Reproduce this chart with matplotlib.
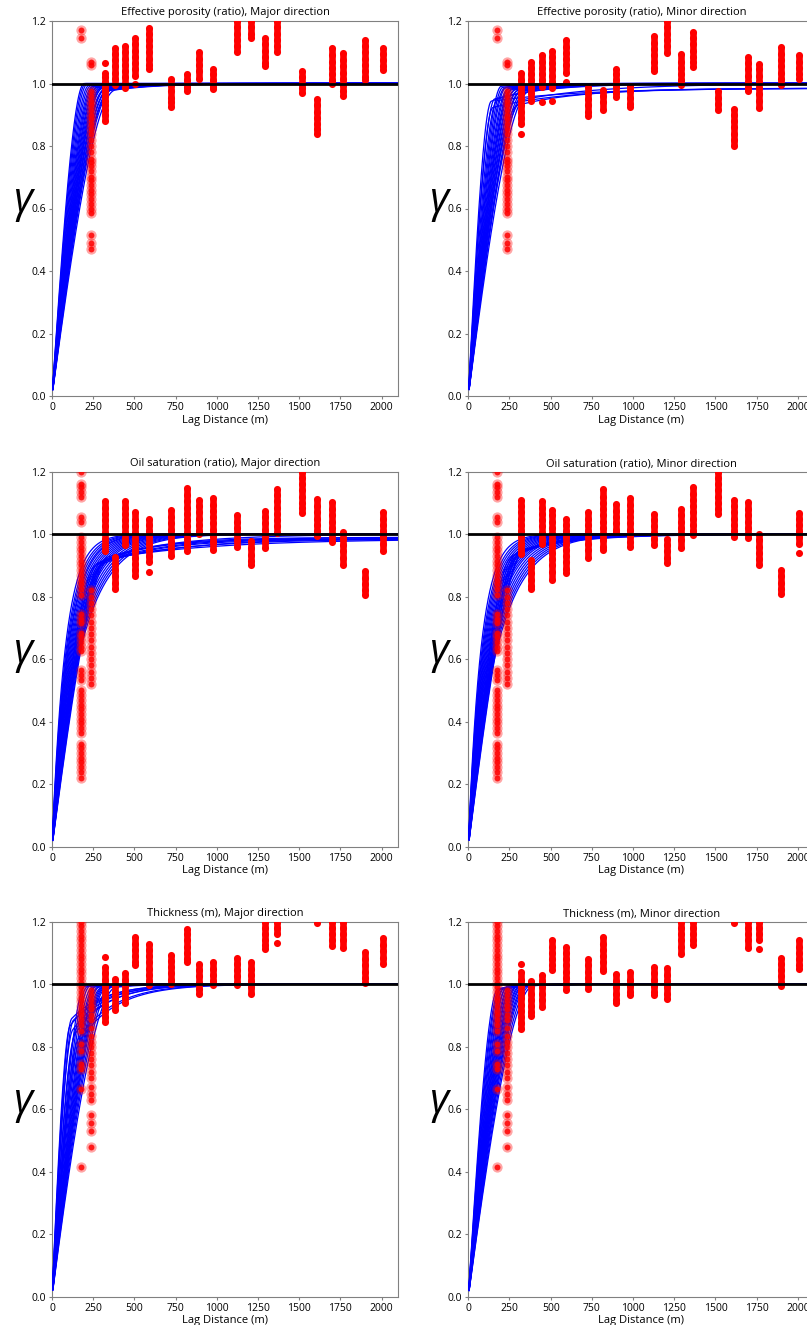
import numpy as np
import matplotlib
matplotlib.use("Agg")
import matplotlib.pyplot as plt

# lag distances (m) of the experimental variogram points
lags = [175, 235, 320, 380, 445, 505, 590, 725, 820, 895, 980, 1125, 1205,
        1290, 1365, 1515, 1610, 1700, 1765, 1900, 2010]

# ---------------- effective porosity ----------------
por_lag1 = [1.17, 1.145]
por_lag2 = [1.07, 1.06, 0.975, 0.96, 0.945, 0.93, 0.915, 0.90, 0.885, 0.87, 0.855,
            0.84, 0.82, 0.80, 0.78, 0.76, 0.75, 0.735, 0.72, 0.70, 0.69, 0.675, 0.66,
            0.645, 0.63, 0.615, 0.60, 0.585, 0.515, 0.49, 0.47]
por_major = [
    [1.065, 1.035, 1.02, 1.005, 0.99, 0.975, 0.96, 0.945, 0.93, 0.915, 0.90, 0.88],
    [1.115, 1.095, 1.075, 1.055, 1.035, 1.015, 0.995],
    [1.12, 1.10, 1.08, 1.06, 1.04, 1.02, 1.00, 0.985],
    [1.145, 1.125, 1.105, 1.085, 1.065, 1.045, 1.025, 0.998],
    [1.178, 1.16, 1.14, 1.12, 1.10, 1.08, 1.06, 1.048],
    [1.014, 0.995, 0.975, 0.955, 0.94, 0.925],
    [1.03, 1.01, 0.99, 0.975],
    [1.10, 1.08, 1.06, 1.04, 1.016],
    [1.048, 1.03, 1.01, 0.99, 0.982],
    [1.2, 1.18, 1.16, 1.14, 1.12, 1.10],
    [1.2, 1.18, 1.16, 1.145],
    [1.147, 1.125, 1.105, 1.085, 1.065, 1.055],
    [1.2, 1.18, 1.16, 1.14, 1.12, 1.10],
    [1.04, 1.02, 1.00, 0.985, 0.97],
    [0.952, 0.93, 0.91, 0.89, 0.87, 0.855, 0.84],
    [1.112, 1.09, 1.07, 1.05, 1.03, 1.01, 1.0],
    [1.098, 1.075, 1.055, 1.035, 1.015, 0.995, 0.975, 0.96],
    [1.139, 1.12, 1.10, 1.08, 1.06, 1.04, 1.02, 1.01],
    [1.114, 1.095, 1.075, 1.055, 1.043],
]
por_minor = [
    [1.035, 1.01, 0.99, 0.97, 0.95, 0.93, 0.91, 0.89, 0.87, 0.84],
    [1.07, 1.05, 1.03, 1.01, 0.99, 0.97, 0.945],
    [1.09, 1.07, 1.05, 1.03, 1.01, 0.99, 0.94],
    [1.105, 1.085, 1.065, 1.045, 1.025, 1.005, 0.985, 0.945],
    [1.138, 1.118, 1.098, 1.078, 1.058, 1.035, 1.005],
    [0.99, 0.97, 0.95, 0.93, 0.91, 0.897],
    [0.98, 0.96, 0.94, 0.915],
    [1.048, 1.03, 1.01, 0.99, 0.97, 0.957],
    [0.993, 0.975, 0.955, 0.935, 0.925],
    [1.153, 1.13, 1.11, 1.09, 1.07, 1.05, 1.04],
    [1.2, 1.18, 1.16, 1.14, 1.12, 1.098],
    [1.093, 1.07, 1.05, 1.03, 1.01, 0.995],
    [1.165, 1.145, 1.125, 1.105, 1.085, 1.07, 1.054],
    [0.975, 0.955, 0.935, 0.915],
    [0.92, 0.90, 0.88, 0.86, 0.84, 0.82, 0.80],
    [1.086, 1.065, 1.045, 1.025, 1.005, 0.985, 0.976],
    [1.064, 1.045, 1.025, 1.005, 0.985, 0.965, 0.945, 0.922],
    [1.117, 1.095, 1.075, 1.055, 1.035, 1.015, 0.995],
    [1.09, 1.07, 1.05, 1.03, 1.015],
]

# ---------------- oil saturation ----------------
sat_lag1 = [1.2, 1.16, 1.15, 1.135, 1.12, 1.055, 1.04, 0.99, 0.975, 0.96, 0.945, 0.93,
            0.915, 0.90, 0.885, 0.87, 0.855, 0.84, 0.825, 0.805, 0.745, 0.73, 0.715,
            0.685, 0.67, 0.655, 0.64, 0.625, 0.565, 0.55, 0.535, 0.50, 0.485, 0.47,
            0.455, 0.44, 0.425, 0.41, 0.395, 0.38, 0.365, 0.33, 0.315, 0.30, 0.285,
            0.27, 0.255, 0.24, 0.22]
sat_lag2 = [0.82, 0.80, 0.78, 0.76, 0.74, 0.72, 0.70, 0.68, 0.66, 0.64, 0.62, 0.60,
            0.58, 0.56, 0.54, 0.52]
sat_major = [
    [1.105, 1.085, 1.065, 1.045, 1.025, 1.005, 0.985, 0.965, 0.945],
    [0.927, 0.905, 0.885, 0.865, 0.845, 0.826],
    [1.105, 1.085, 1.065, 1.045, 1.025, 1.005, 0.985, 0.965],
    [1.07, 1.045, 1.025, 1.005, 0.985, 0.965, 0.945, 0.925, 0.905, 0.885, 0.865],
    [1.05, 1.03, 1.01, 0.99, 0.97, 0.95, 0.93, 0.91, 0.88],
    [1.077, 1.055, 1.035, 1.015, 0.995, 0.975, 0.955, 0.93],
    [1.148, 1.125, 1.105, 1.085, 1.065, 1.045, 1.025, 1.005, 0.985, 0.965, 0.945],
    [1.109, 1.09, 1.07, 1.05, 1.03, 1.01, 1.0],
    [1.116, 1.095, 1.075, 1.055, 1.035, 1.015, 0.995, 0.975, 0.95],
    [1.063, 1.04, 1.02, 1.0, 0.98, 0.96],
    [0.978, 0.955, 0.935, 0.915, 0.90],
    [1.074, 1.055, 1.035, 1.015, 0.995, 0.975, 0.955],
    [1.146, 1.125, 1.105, 1.085, 1.065, 1.045, 1.025, 1.005],
    [1.2, 1.18, 1.16, 1.14, 1.12, 1.10, 1.085, 1.069],
    [1.112, 1.09, 1.07, 1.05, 1.03, 1.01, 0.995],
    [1.104, 1.08, 1.06, 1.04, 1.02, 1.0, 0.975],
    [1.008, 0.985, 0.965, 0.945, 0.925, 0.90],
    [0.881, 0.86, 0.84, 0.82, 0.805],
    [1.071, 1.05, 1.03, 1.01, 0.99, 0.97, 0.945],
]
sat_minor = [
    [1.11, 1.09, 1.07, 1.05, 1.03, 1.01, 0.99, 0.97, 0.95, 0.938],
    [0.917, 0.895, 0.875, 0.855, 0.835, 0.824],
    [1.105, 1.085, 1.065, 1.045, 1.025, 1.005, 0.985, 0.97],
    [1.079, 1.06, 1.04, 1.02, 1.0, 0.98, 0.96, 0.94, 0.92, 0.90, 0.88, 0.855],
    [1.05, 1.03, 1.01, 0.99, 0.97, 0.95, 0.93, 0.91, 0.89, 0.877],
    [1.071, 1.05, 1.03, 1.01, 0.99, 0.97, 0.95, 0.925],
    [1.144, 1.12, 1.10, 1.08, 1.06, 1.04, 1.02, 1.0, 0.98, 0.96, 0.95],
    [1.098, 1.075, 1.055, 1.035, 1.015, 1.008],
    [1.116, 1.095, 1.075, 1.055, 1.035, 1.015, 0.995, 0.975, 0.96],
    [1.066, 1.045, 1.025, 1.005, 0.985, 0.967],
    [0.984, 0.965, 0.945, 0.925, 0.909],
    [1.08, 1.06, 1.04, 1.02, 1.0, 0.98, 0.956],
    [1.151, 1.13, 1.11, 1.09, 1.07, 1.05, 1.03, 1.01, 0.997],
    [1.2, 1.18, 1.16, 1.14, 1.12, 1.10, 1.08, 1.066],
    [1.109, 1.09, 1.07, 1.05, 1.03, 1.01, 0.992],
    [1.104, 1.08, 1.06, 1.04, 1.02, 1.0, 0.988],
    [1.002, 0.98, 0.96, 0.94, 0.92, 0.903],
    [0.885, 0.865, 0.845, 0.825, 0.81],
    [1.069, 1.05, 1.03, 1.01, 0.99, 0.97, 0.941],
]

# ---------------- thickness ----------------
thk_lag1 = [1.2, 1.185, 1.17, 1.155, 1.14, 1.125, 1.11, 1.095, 1.08, 1.065, 1.05,
            1.035, 1.02, 1.005, 0.99, 0.975, 0.96, 0.945, 0.93, 0.915, 0.90, 0.885,
            0.87, 0.85, 0.81, 0.785, 0.745, 0.73, 0.665, 0.415]
thk_lag2 = [0.98, 0.965, 0.95, 0.935, 0.92, 0.90, 0.885, 0.86, 0.835, 0.815, 0.80,
            0.78, 0.76, 0.74, 0.72, 0.70, 0.67, 0.65, 0.63, 0.58, 0.555, 0.53, 0.48]
thk_major = [
    [1.087, 1.055, 1.035, 1.015, 0.995, 0.975, 0.955, 0.935, 0.915, 0.895, 0.88],
    [1.016, 0.995, 0.975, 0.955, 0.935, 0.917],
    [1.037, 1.015, 0.995, 0.975, 0.955, 0.94],
    [1.15, 1.13, 1.11, 1.09, 1.07, 1.061],
    [1.13, 1.11, 1.09, 1.07, 1.05, 1.03, 1.01, 0.997],
    [1.095, 1.075, 1.055, 1.035, 1.015, 1.002],
    [1.178, 1.16, 1.14, 1.12, 1.10, 1.08, 1.071],
    [1.066, 1.045, 1.025, 1.005, 0.985, 0.97],
    [1.071, 1.05, 1.03, 1.01, 0.999],
    [1.084, 1.065, 1.045, 1.025, 1.005, 0.997],
    [1.071, 1.05, 1.03, 1.01, 0.99, 0.97],
    [1.2, 1.18, 1.16, 1.14, 1.125, 1.114],
    [1.2, 1.18, 1.16, 1.133],
    [],
    [1.195],
    [1.2, 1.18, 1.16, 1.14, 1.123],
    [1.2, 1.18, 1.16, 1.14, 1.117],
    [1.104, 1.08, 1.06, 1.04, 1.02, 1.005],
    [1.148, 1.125, 1.105, 1.085, 1.066],
]
thk_minor = [
    [1.066, 1.04, 1.015, 0.995, 0.975, 0.955, 0.935, 0.915, 0.895, 0.875, 0.858],
    [1.01, 0.99, 0.97, 0.95, 0.93, 0.91, 0.898],
    [1.029, 1.01, 0.99, 0.97, 0.95, 0.927],
    [1.141, 1.12, 1.10, 1.08, 1.06, 1.045],
    [1.12, 1.10, 1.08, 1.06, 1.04, 1.02, 1.0, 0.981],
    [1.08, 1.06, 1.04, 1.02, 1.0, 0.984],
    [1.151, 1.13, 1.11, 1.09, 1.07, 1.05, 1.042],
    [1.034, 1.01, 0.99, 0.97, 0.95, 0.941],
    [1.039, 1.015, 0.995, 0.975, 0.967],
    [1.056, 1.035, 1.015, 0.995, 0.975, 0.967],
    [1.052, 1.03, 1.01, 0.99, 0.97, 0.952],
    [1.2, 1.18, 1.16, 1.14, 1.12, 1.098],
    [1.2, 1.18, 1.16, 1.14, 1.127],
    [],
    [1.195],
    [1.2, 1.18, 1.16, 1.14, 1.116],
    [1.2, 1.18, 1.16, 1.14, 1.112],
    [1.084, 1.065, 1.045, 1.025, 1.005, 0.995],
    [1.141, 1.12, 1.10, 1.08, 1.06, 1.05],
]

# ---------------- fitted variogram models (one entry per realization) ----------------
# gamma(h) = c_sph * spherical(h, a_sph) + (sill - c_sph) * exponential(h, a_exp)
por_major_csph = [1.0, 1.0, 0.99, 0.97, 0.96, 0.95, 0.96, 0.95, 0.94, 0.95, 0.94, 0.93,
                  0.94, 0.93, 0.95, 0.92, 0.93, 0.94, 0.92, 0.93, 0.91, 0.92, 0.93, 0.92]
por_major_asph = [195, 205, 215, 225, 235, 245, 255, 262, 270, 278, 285, 292,
                  300, 305, 312, 318, 325, 330, 338, 345, 352, 360, 370, 385]
por_major_aexp = [300, 300, 350, 400, 420, 450, 480, 500, 520, 540, 560, 580,
                  600, 620, 640, 660, 680, 700, 720, 740, 760, 780, 800, 850]
por_major_sill = [1.0, 1.0, 1.0, 1.0, 1.0, 1.0, 1.0, 1.0, 1.0, 1.0, 1.0, 1.0,
                  1.0, 1.0, 1.0, 1.0, 1.0, 1.0, 1.0, 1.0, 1.0, 1.0, 1.0, 1.0]

por_minor_csph = [0.91, 0.90, 0.92, 0.93, 0.96, 0.95, 0.94, 0.95, 0.93, 0.94, 0.92, 0.93,
                  0.94, 0.92, 0.93, 0.91, 0.92, 0.90, 0.91, 0.87, 0.90, 0.92, 0.91, 0.90]
por_minor_asph = [140, 150, 160, 175, 200, 210, 220, 230, 240, 250, 258, 266,
                  274, 282, 290, 298, 306, 314, 322, 300, 330, 340, 350, 370]
por_minor_aexp = [900, 1400, 1000, 1600, 400, 450, 480, 500, 520, 540, 560, 580,
                  600, 620, 640, 660, 680, 700, 720, 1200, 1500, 760, 780, 800]
por_minor_sill = [1.0, 0.985, 1.0, 0.985, 1.0, 1.0, 1.0, 1.0, 1.0, 1.0, 1.0, 1.0,
                  1.0, 1.0, 1.0, 1.0, 1.0, 1.0, 1.0, 0.985, 1.0, 1.0, 1.0, 1.0]

sat_major_csph = [0.0, 0.0, 0.0, 0.0, 0.0, 0.0, 0.0, 0.0, 0.0, 0.0, 0.0, 0.0, 0.0,
                  0.0, 0.0, 0.0, 0.0, 0.0, 0.78, 0.80, 0.80, 0.82, 0.84, 0.85, 0.86, 0.88]
sat_major_asph = [300, 300, 300, 300, 300, 300, 300, 300, 300, 300, 300, 300, 300,
                  300, 300, 300, 300, 300, 260, 280, 300, 320, 340, 300, 320, 350]
sat_major_aexp = [240, 260, 275, 290, 300, 315, 330, 345, 360, 375, 390, 405, 420,
                  440, 460, 480, 500, 520, 900, 1000, 1100, 1200, 1300, 1500, 1700, 2000]
sat_major_sill = [1.0, 1.0, 1.0, 1.0, 1.0, 1.0, 1.0, 1.0, 1.0, 1.0, 1.0, 1.0, 1.0,
                  1.0, 1.0, 1.0, 1.0, 1.0, 0.985, 0.99, 0.985, 0.99, 1.0, 0.985, 0.99, 0.985]

sat_minor_csph = [0.0, 0.0, 0.0, 0.0, 0.0, 0.0, 0.0, 0.0, 0.0, 0.0, 0.0, 0.0, 0.0,
                  0.0, 0.0, 0.0, 0.0, 0.0, 0.78, 0.80, 0.80, 0.82, 0.84, 0.85, 0.86, 0.88]
sat_minor_asph = [300, 300, 300, 300, 300, 300, 300, 300, 300, 300, 300, 300, 300,
                  300, 300, 300, 300, 300, 260, 280, 300, 320, 340, 300, 320, 350]
sat_minor_aexp = [230, 250, 265, 280, 295, 310, 325, 340, 355, 370, 385, 400, 420,
                  440, 460, 480, 500, 520, 700, 750, 800, 850, 900, 950, 1000, 1100]
sat_minor_sill = [1.0, 1.0, 1.0, 1.0, 1.0, 1.0, 1.0, 1.0, 1.0, 1.0, 1.0, 1.0, 1.0,
                  1.0, 1.0, 1.0, 1.0, 1.0, 1.0, 1.0, 1.0, 1.0, 1.0, 1.0, 1.0, 1.0]

thk_major_csph = [0.76, 0.80, 0.72, 0.79, 0.68, 0.72, 0.64, 0.62, 0.95, 0.94, 0.95, 0.93,
                  0.94, 0.95, 0.93, 0.94, 0.92, 0.93, 0.94, 0.92, 0.93, 0.91, 0.92, 0.90]
thk_major_asph = [110, 120, 125, 130, 140, 150, 160, 170, 200, 215, 230, 245,
                  260, 270, 280, 290, 300, 310, 320, 330, 340, 355, 370, 390]
thk_major_aexp = [560, 600, 580, 650, 600, 640, 660, 680, 300, 320, 340, 360,
                  380, 400, 420, 440, 460, 480, 500, 420, 440, 460, 480, 500]
thk_major_sill = [1.0, 1.0, 1.0, 1.0, 1.0, 1.0, 1.0, 1.0, 1.0, 1.0, 1.0, 1.0,
                  1.0, 1.0, 1.0, 1.0, 1.0, 1.0, 1.0, 1.0, 1.0, 1.0, 1.0, 1.0]

thk_minor_csph = [0.93, 0.92, 0.94, 0.93, 0.95, 0.94, 0.96, 0.95, 0.96, 0.95, 0.97, 0.96,
                  0.95, 0.96, 0.97, 0.95, 0.96, 0.95, 0.97, 0.96, 0.95, 0.96, 0.97, 0.96]
thk_minor_asph = [180, 190, 200, 210, 220, 230, 240, 250, 258, 266, 274, 282,
                  290, 298, 306, 314, 322, 330, 340, 350, 360, 370, 385, 400]
thk_minor_aexp = [350, 380, 400, 420, 440, 450, 380, 400, 420, 440, 460, 480,
                  500, 380, 400, 420, 440, 460, 480, 500, 400, 420, 440, 460]
thk_minor_sill = [1.0, 1.0, 1.0, 1.0, 1.0, 1.0, 1.0, 1.0, 1.0, 1.0, 1.0, 1.0,
                  1.0, 1.0, 1.0, 1.0, 1.0, 1.0, 1.0, 1.0, 1.0, 1.0, 1.0, 1.0]

titles = [
    "Effective porosity (ratio), Major direction",
    "Effective porosity (ratio), Minor direction",
    "Oil saturation (ratio), Major direction",
    "Oil saturation (ratio), Minor direction",
    "Thickness (m), Major direction",
    "Thickness (m), Minor direction",
]


def variogram_model(h, c_sph, a_sph, a_exp, sill):
    u = np.minimum(h / a_sph, 1.0)
    sph = 1.5 * u - 0.5 * u ** 3
    expo = 1.0 - np.exp(-3.0 * h / a_exp)
    return c_sph * sph + (sill - c_sph) * expo


def plot_stack(ax, lag, vals):
    # dense stacks of points read as solid bars: join neighbours closer than 0.026
    v = sorted(vals)
    seg = [v[0]]
    for a, b in zip(v[:-1], v[1:]):
        if b - a > 0.026:
            if len(seg) > 1:
                ax.plot([lag, lag], [seg[0], seg[-1]], color="#ff0000", lw=4.8,
                        solid_capstyle="butt", zorder=5)
            seg = [b]
        else:
            seg.append(b)
    if len(seg) > 1:
        ax.plot([lag, lag], [seg[0], seg[-1]], color="#ff0000", lw=4.8,
                solid_capstyle="butt", zorder=5)
    ax.scatter(np.full(len(v), lag), v, s=26, color="#ff0000", lw=0, zorder=5)


def plot_panel(ax, title, near1, near2, far, csph, asph, aexp, sill):
    h = np.linspace(5, 2100, 600)
    for c, a, ae, s in zip(csph, asph, aexp, sill):
        ax.plot(h, variogram_model(h, c, a, ae, s), color="#0000ff", lw=0.9, zorder=3)

    # first two lags: lighter, semi-transparent points
    for lag, vals in ((lags[0], near1), (lags[1], near2)):
        x = np.full(len(vals), lag)
        ax.scatter(x, vals, s=55, color="#ff0000", alpha=0.35, lw=0, zorder=4)
        ax.scatter(x, vals, s=18, color="#ff0000", alpha=0.85, lw=0, zorder=4)

    for lag, vals in zip(lags[2:], far):
        if len(vals) == 0:
            continue
        plot_stack(ax, lag, vals)

    ax.axhline(1.0, color="black", lw=2, zorder=6)
    ax.set_xlim(0, 2100)
    ax.set_ylim(0, 1.2)
    ax.set_xticks([0, 250, 500, 750, 1000, 1250, 1500, 1750, 2000])
    ax.set_yticks([0.0, 0.2, 0.4, 0.6, 0.8, 1.0, 1.2])
    ax.set_yticklabels(["0.0", "0.2", "0.4", "0.6", "0.8", "1.0", "1.2"])
    ax.tick_params(labelsize=7.5, length=2.5, color="#808080", pad=2)
    for sp in ax.spines.values():
        sp.set_color("#808080")
    ax.set_title(title, fontsize=8, pad=4)
    ax.set_xlabel("Lag Distance (m)", fontsize=8, labelpad=1)
    ax.set_ylabel("γ", fontsize=30, rotation=0, style="italic", va="center", ha="center")
    ax.yaxis.set_label_coords(-0.085, 0.52)


plt.rcParams["font.family"] = ["Open Sans", "DejaVu Sans"]

fig = plt.figure(figsize=(8.07, 13.25), dpi=100)
W, H = 807.0, 1325.0
col_left = [52.0, 468.3]
row_top = [21.0, 471.7, 921.7]
ax_w, ax_h = 346.0, 375.0

panels = [
    (por_lag1, por_lag2, por_major, por_major_csph, por_major_asph, por_major_aexp, por_major_sill),
    (por_lag1, por_lag2, por_minor, por_minor_csph, por_minor_asph, por_minor_aexp, por_minor_sill),
    (sat_lag1, sat_lag2, sat_major, sat_major_csph, sat_major_asph, sat_major_aexp, sat_major_sill),
    (sat_lag1, sat_lag2, sat_minor, sat_minor_csph, sat_minor_asph, sat_minor_aexp, sat_minor_sill),
    (thk_lag1, thk_lag2, thk_major, thk_major_csph, thk_major_asph, thk_major_aexp, thk_major_sill),
    (thk_lag1, thk_lag2, thk_minor, thk_minor_csph, thk_minor_asph, thk_minor_aexp, thk_minor_sill),
]

for i, p in enumerate(panels):
    r, c = divmod(i, 2)
    ax = fig.add_axes([col_left[c] / W, 1 - (row_top[r] + ax_h) / H, ax_w / W, ax_h / H])
    plot_panel(ax, titles[i], *p)

fig.savefig("out.png", dpi=100)
